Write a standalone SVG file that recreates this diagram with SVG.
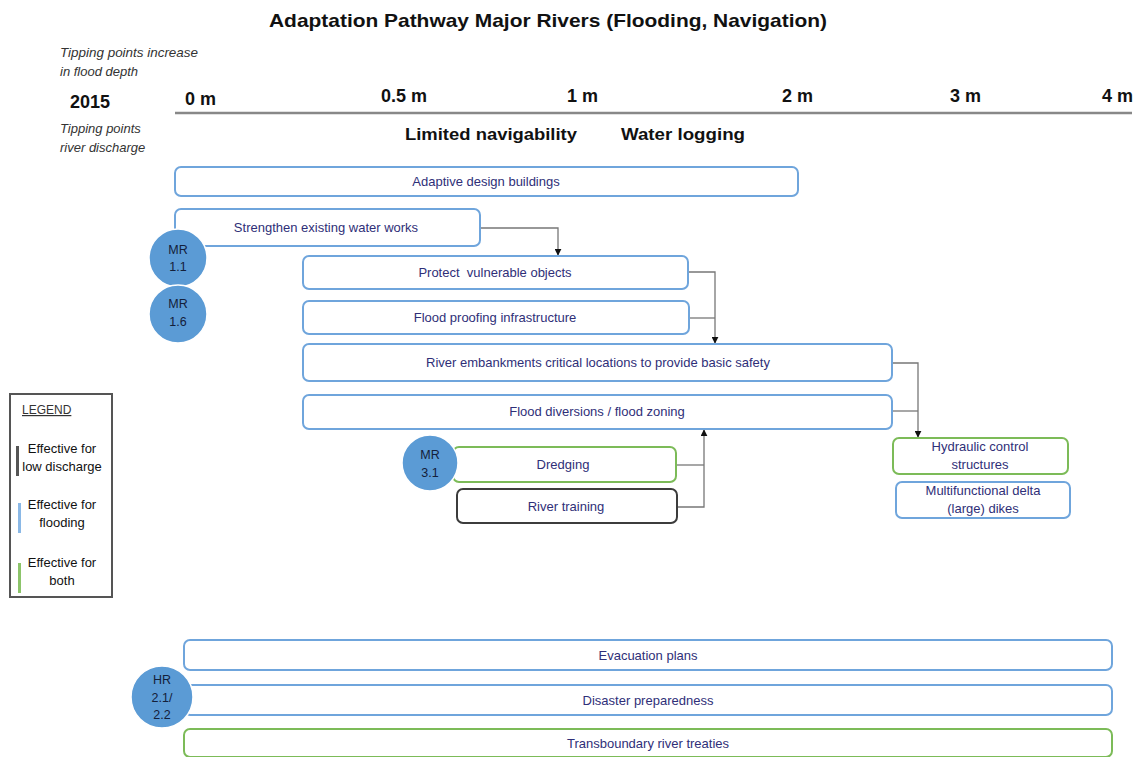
<svg xmlns="http://www.w3.org/2000/svg" width="1138" height="757" viewBox="0 0 1138 757">
  <defs>
    <marker id="arr" viewBox="0 0 10 10" refX="9" refY="5" markerWidth="7" markerHeight="7" orient="auto" markerUnits="userSpaceOnUse">
      <path d="M0,0 L10,5 L0,10 Z" fill="#111"/>
    </marker>
    <style>
      .title { font-family: "Liberation Sans", Arial, sans-serif; font-weight: bold; font-size: 18.5px; fill: #111; }
      .note { font-family: "Liberation Sans", Arial, sans-serif; font-style: italic; font-size: 13px; fill: #333; }
      .axis { font-family: "Liberation Sans", Arial, sans-serif; font-weight: bold; font-size: 18px; fill: #111; }
      .tp { font-family: "Liberation Sans", Arial, sans-serif; font-weight: bold; font-size: 17px; fill: #111; }
      .box { fill: #fff; stroke-width: 2; }
      .flood { stroke: #6fa5dc; }
      .both { stroke: #7cbb58; }
      .low { stroke: #3c3c3c; }
      .lbl { font-family: "Liberation Sans", Arial, sans-serif; font-size: 13px; fill: #2f2f78; text-anchor: middle; }
      .circ { fill: #5b9bd5; stroke: #fff; stroke-width: 1.5; }
      .clbl { font-family: "Liberation Sans", Arial, sans-serif; font-size: 12.5px; fill: #14203a; text-anchor: middle; }
      .conn { fill: none; stroke: #777; stroke-width: 1.3; }
      .leg { font-family: "Liberation Sans", Arial, sans-serif; font-size: 13px; fill: #111; text-anchor: middle; }
    </style>
  </defs>

  <rect width="1138" height="757" fill="#fff"/>

  <!-- header and axis -->
  <text class="title" x="548" y="27" text-anchor="middle" textLength="558" lengthAdjust="spacingAndGlyphs">Adaptation Pathway Major Rivers (Flooding, Navigation)</text>
  <text class="note" x="60" y="57" textLength="138" lengthAdjust="spacingAndGlyphs">Tipping points increase</text>
  <text class="note" x="60" y="76">in flood depth</text>
  <text class="axis" x="70" y="108" font-size="20">2015</text>
  <text class="note" x="60" y="133">Tipping points</text>
  <text class="note" x="60" y="152">river discharge</text>

  <line x1="175" y1="113" x2="1132" y2="113" stroke="#888" stroke-width="2.5"/>
  <text class="axis" x="185" y="105">0 m</text>
  <text class="axis" x="381" y="102">0.5 m</text>
  <text class="axis" x="567" y="102">1 m</text>
  <text class="axis" x="782" y="102">2 m</text>
  <text class="axis" x="950" y="102">3 m</text>
  <text class="axis" x="1102" y="102">4 m</text>
  <text class="tp" x="405" y="140" textLength="172" lengthAdjust="spacingAndGlyphs">Limited navigability</text>
  <text class="tp" x="621" y="140" textLength="124" lengthAdjust="spacingAndGlyphs">Water logging</text>

  <!-- connectors -->
  <g id="connectors">
    <polyline class="conn" points="480,228 558,228 558,255" marker-end="url(#arr)"/>
    <polyline class="conn" points="688,272 715,272 715,343" marker-end="url(#arr)"/>
    <line class="conn" x1="689" y1="318" x2="715" y2="318"/>
    <polyline class="conn" points="892,363 918,363 918,437" marker-end="url(#arr)"/>
    <line class="conn" x1="892" y1="411" x2="918" y2="411"/>
    <polyline class="conn" points="677,507 704,507 704,430" marker-end="url(#arr)"/>
    <line class="conn" x1="676" y1="465" x2="704" y2="465"/>
  </g>

  <!-- measures -->
  <g id="adaptive-design">
    <rect class="box flood" x="175" y="167" width="623" height="29" rx="6"/>
    <text class="lbl" x="486" y="186">Adaptive design buildings</text>
  </g>
  <g id="strengthen-works">
    <rect class="box flood" x="175" y="209" width="305" height="37" rx="6"/>
    <text class="lbl" x="326" y="232">Strengthen existing water works</text>
  </g>
  <g id="protect-objects">
    <rect class="box flood" x="303" y="256" width="385" height="33" rx="6"/>
    <text class="lbl" x="495" y="277" xml:space="preserve">Protect  vulnerable objects</text>
  </g>
  <g id="flood-proofing">
    <rect class="box flood" x="303" y="301" width="386" height="33" rx="6"/>
    <text class="lbl" x="495" y="322">Flood proofing infrastructure</text>
  </g>
  <g id="river-embankments">
    <rect class="box flood" x="303" y="344" width="589" height="37" rx="6"/>
    <text class="lbl" x="598" y="367">River embankments critical locations to provide basic safety</text>
  </g>
  <g id="flood-diversions">
    <rect class="box flood" x="303" y="395" width="589" height="34" rx="6"/>
    <text class="lbl" x="597" y="416">Flood diversions / flood zoning</text>
  </g>
  <g id="dredging">
    <rect class="box both" x="453" y="447" width="223" height="35" rx="6"/>
    <text class="lbl" x="563" y="469">Dredging</text>
  </g>
  <g id="river-training">
    <rect class="box low" x="457" y="489" width="220" height="34" rx="6"/>
    <text class="lbl" x="566" y="511">River training</text>
  </g>
  <g id="hydraulic-control">
    <rect class="box both" x="893" y="438" width="175" height="36" rx="6"/>
    <text class="lbl" x="980" y="451">Hydraulic control</text>
    <text class="lbl" x="980" y="469">structures</text>
  </g>
  <g id="delta-dikes">
    <rect class="box flood" x="896" y="482" width="174" height="36" rx="6"/>
    <text class="lbl" x="983" y="495">Multifunctional delta</text>
    <text class="lbl" x="983" y="513">(large) dikes</text>
  </g>
  <g id="evacuation">
    <rect class="box flood" x="184" y="640" width="928" height="30" rx="6"/>
    <text class="lbl" x="648" y="660">Evacuation plans</text>
  </g>
  <g id="disaster-preparedness">
    <rect class="box flood" x="184" y="685" width="928" height="30" rx="6"/>
    <text class="lbl" x="648" y="705">Disaster preparedness</text>
  </g>
  <g id="transboundary">
    <rect class="box both" x="184" y="729" width="928" height="28" rx="6"/>
    <text class="lbl" x="648" y="748">Transboundary river treaties</text>
  </g>

  <!-- measure codes -->
  <g id="mr-1-1">
    <circle class="circ" cx="178" cy="258" r="29"/>
    <text class="clbl" x="178" y="254">MR</text>
    <text class="clbl" x="178" y="271">1.1</text>
  </g>
  <g id="mr-1-6">
    <circle class="circ" cx="178" cy="314" r="29"/>
    <text class="clbl" x="178" y="308">MR</text>
    <text class="clbl" x="178" y="326">1.6</text>
  </g>
  <g id="mr-3-1">
    <circle class="circ" cx="430" cy="463" r="28"/>
    <text class="clbl" x="430" y="459">MR</text>
    <text class="clbl" x="430" y="477">3.1</text>
  </g>
  <g id="hr-2-1">
    <circle class="circ" cx="162" cy="697" r="31"/>
    <text class="clbl" x="162" y="684">HR</text>
    <text class="clbl" x="162" y="702">2.1/</text>
    <text class="clbl" x="162" y="719">2.2</text>
  </g>

  <!-- legend -->
  <g id="legend">
    <rect x="10" y="394" width="102" height="203" fill="#fff" stroke="#555" stroke-width="2"/>
    <text x="22" y="414" font-family="Liberation Sans, Arial, sans-serif" font-size="12" fill="#333" text-decoration="underline">LEGEND</text>
    <rect x="16" y="446" width="3" height="30" fill="#555"/>
    <text class="leg" x="62" y="453">Effective for</text>
    <text class="leg" x="62" y="471">low discharge</text>
    <rect x="18" y="503" width="3" height="30" fill="#8ab8e6"/>
    <text class="leg" x="62" y="509">Effective for</text>
    <text class="leg" x="62" y="527">flooding</text>
    <rect x="18" y="563" width="3" height="30" fill="#8cc46a"/>
    <text class="leg" x="62" y="567">Effective for</text>
    <text class="leg" x="62" y="585">both</text>
  </g>
</svg>
